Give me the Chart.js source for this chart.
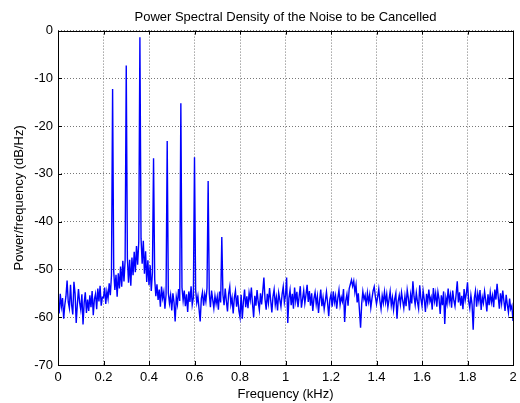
<!DOCTYPE html>
<html>
<head>
<meta charset="utf-8">
<script src="https://cdn.jsdelivr.net/npm/chart.js@4/dist/chart.umd.min.js"></script>
<style>
  html, body { margin: 0; padding: 0; background: #fff; }
  #c { display: block; }
</style>
</head>
<body>
<canvas id="c" width="520" height="403"></canvas>
<script>
// frequency grid: 0 .. 2 kHz, 401 bins
const fStep = 0.005
const binCount = 401

// PSD in dB/Hz, one row per 0.1 kHz
const psd = [
  -56.5,-59.2,-55.1,-57.8,-56.0,-60.3,-57.4,-55.6,-52.3,-56.8,-58.1,-53.2,-57.5,-59.4,-52.6,-55.0,-61.2,-57.3,-54.1,-56.9,
  -58.4,-55.2,-61.5,-57.0,-54.8,-59.1,-56.3,-58.7,-55.4,-57.9,-54.5,-59.6,-56.2,-55.1,-58.3,-54.0,-56.7,-53.4,-57.6,-55.8,
  -55.9,-53.8,-57.2,-54.6,-56.1,-52.9,-55.4,-51.2,-12.2,-50.5,-54.3,-51.1,-55.7,-50.8,-54.0,-49.4,-53.6,-48.2,-52.5,-48.1,
  -7.3,-47.6,-52.8,-48.0,-53.4,-47.5,-51.2,-46.3,-50.6,-45.1,-49.0,-44.2,-1.4,-43.5,-48.8,-44.0,-50.9,-46.2,-52.6,-48.1,
  -53.3,-49.1,-54.5,-50.7,-26.7,-52.0,-55.6,-53.1,-56.4,-54.2,-57.8,-53.6,-56.0,-54.7,-58.2,-55.3,-23.1,-54.9,-57.1,-55.4,
  -58.6,-55.0,-56.9,-60.9,-55.8,-57.3,-54.1,-56.6,-15.2,-53.8,-56.5,-54.4,-57.7,-55.2,-58.9,-54.6,-56.8,-53.5,-57.4,-55.9,
  -26.5,-54.3,-57.0,-55.6,-58.3,-60.9,-56.1,-54.8,-57.6,-55.2,-56.7,-53.9,-31.5,-55.0,-57.9,-54.4,-56.3,-58.1,-55.5,-57.2,
  -55.7,-58.4,-54.6,-56.9,-43.2,-55.3,-57.5,-54.0,-56.6,-58.8,-55.1,-53.6,-57.3,-55.9,-59.2,-56.0,-54.5,-57.8,-55.4,-58.6,
  -60.0,-55.3,-60.3,-56.7,-54.2,-57.9,-55.6,-58.1,-54.9,-56.4,-53.8,-57.2,-60.0,-55.5,-57.6,-54.3,-56.8,-58.5,-55.0,-57.3,
  -54.6,-51.7,-56.2,-58.4,-55.1,-57.0,-53.9,-56.5,-59.0,-55.7,-54.2,-57.4,-55.8,-58.6,-54.9,-56.3,-57.8,-55.2,-53.6,-56.9,
  -55.4,-51.7,-61.2,-56.0,-54.3,-57.5,-55.1,-58.2,-53.8,-56.6,-54.7,-57.9,-55.6,-53.5,-58.0,-56.2,-54.4,-57.1,-55.3,-53.2,
  -56.8,-54.5,-57.6,-55.0,-58.7,-56.1,-54.8,-57.3,-55.6,-59.1,-56.4,-54.2,-57.7,-55.9,-58.3,-56.6,-54.7,-57.0,-59.8,-56.3,
  -55.2,-57.8,-54.6,-56.9,-55.5,-58.2,-56.0,-54.3,-57.4,-55.8,-56.7,-54.1,-61.0,-56.5,-55.2,-57.6,-54.0,-53.1,-52.2,-53.5,
  -52.4,-54.8,-53.2,-56.9,-55.0,-58.5,-62.2,-57.1,-54.6,-56.3,-55.4,-57.7,-54.9,-56.8,-55.3,-58.0,-56.1,-54.5,-53.6,-55.7,
  -57.2,-55.8,-54.1,-56.6,-58.3,-55.5,-57.0,-54.7,-56.9,-55.2,-57.9,-56.3,-54.6,-57.5,-55.9,-58.4,-56.2,-55.0,-60.3,-56.7,
  -55.4,-57.3,-54.8,-56.5,-58.1,-55.6,-57.7,-54.3,-56.0,-58.6,-55.3,-57.1,-52.5,-55.7,-57.4,-54.9,-56.8,-58.2,-53.3,-56.1,
  -57.6,-54.5,-56.3,-58.9,-55.1,-57.0,-54.2,-56.7,-55.8,-58.4,-53.9,-56.6,-55.0,-57.8,-54.7,-56.2,-59.3,-55.4,-57.5,-54.6,
  -61.4,-55.9,-57.2,-54.0,-56.8,-55.3,-58.0,-54.4,-56.5,-57.7,-55.2,-52.5,-56.9,-54.8,-57.6,-55.5,-58.3,-54.1,-56.4,-55.0,
  -52.7,-56.6,-58.1,-55.4,-57.3,-62.6,-56.0,-54.5,-57.8,-55.1,-56.7,-54.3,-58.5,-55.8,-57.0,-54.6,-56.4,-58.8,-55.2,-57.5,
  -54.8,-56.9,-55.5,-57.9,-54.2,-56.3,-53.0,-55.7,-58.2,-55.0,-57.1,-54.4,-56.6,-58.7,-55.3,-57.4,-59.0,-56.1,-58.3,-57.6,
  -60.8
]

const freqs = Array.from({ length: binCount }, (_, i) => +(i * fStep).toFixed(3))

const fontFamily = "'Liberation Sans', Arial, sans-serif"

// black box round the axes with small inward ticks, matlab style
const boxPlugin = {
  id: 'box',
  afterDraw(chart) {
    const ctx = chart.ctx
    const a = chart.chartArea
    const xs = chart.scales.x
    const ys = chart.scales.y
    ctx.save()
    ctx.strokeStyle = "black"
    ctx.lineWidth = 1
    ctx.setLineDash([])
    ctx.strokeRect(Math.round(a.left) + 0.5, Math.round(a.top) + 0.5,
      Math.round(a.right - a.left), Math.round(a.bottom - a.top))
    ctx.beginPath()
    xs.ticks.forEach(t => {
      const x = Math.round(xs.getPixelForValue(t.value)) + 0.5
      ctx.moveTo(x, a.bottom); ctx.lineTo(x, a.bottom - 4)
      ctx.moveTo(x, a.top); ctx.lineTo(x, a.top + 4)
    })
    ys.ticks.forEach(t => {
      const y = Math.round(ys.getPixelForValue(t.value)) + 0.5
      ctx.moveTo(a.left, y); ctx.lineTo(a.left + 4, y)
      ctx.moveTo(a.right, y); ctx.lineTo(a.right - 4, y)
    })
    ctx.stroke()
    ctx.restore()
  }
}

new Chart(document.getElementById("c").getContext("2d"), {
  type: "line",
  data: {
    datasets: [{
      data: freqs.map((f, i) => ({ x: f, y: psd[i] })),
      borderColor: "#0000ff",
      borderWidth: 1.4,
      pointRadius: 0,
      tension: 0,
      fill: false
    }]
  },
  options: {
    responsive: false,
    animation: false,
    devicePixelRatio: 1,
    layout: { padding: { left: 0, right: 7, top: 0, bottom: 0 } },
    plugins: {
      legend: { display: false },
      tooltip: { enabled: false },
      title: {
        display: true,
        fullSize: false,
        text: "Power Spectral Density of the Noise to be Cancelled",
        color: "black",
        font: { family: fontFamily, size: 13, weight: "normal", lineHeight: 1.2 },
        padding: { top: 10, bottom: 5 }
      }
    },
    scales: {
      x: {
        type: "linear",
        min: 0,
        max: 2,
        afterFit(scale) {
          scale.height = 38
          scale.paddingRight = 0
          scale.paddingLeft = 0
        },
        grid: { color: "#777", drawTicks: false },
        border: { display: false, dash: [1, 2] },
        ticks: {
          stepSize: 0.2,
          padding: 5,
          autoSkip: false,
          maxRotation: 0,
          color: "black",
          font: { family: fontFamily, size: 13 },
          callback: (value) => String(+value.toFixed(1))
        },
        title: {
          display: true,
          text: "Frequency (kHz)",
          color: "black",
          font: { family: fontFamily, size: 13 },
          padding: { top: 0, bottom: 1 }
        }
      },
      y: {
        min: -70,
        max: 0,
        afterFit(scale) {
          scale.width = 58
          scale.paddingTop = 0
          scale.paddingBottom = 0
        },
        grid: { color: "#777", drawTicks: false },
        border: { display: false, dash: [1, 2] },
        ticks: {
          stepSize: 10,
          padding: 5,
          color: "black",
          font: { family: fontFamily, size: 13 }
        },
        title: {
          display: true,
          text: "Power/frequency (dB/Hz)",
          color: "black",
          font: { family: fontFamily, size: 13 },
          padding: { top: 12, bottom: 0 }
        }
      }
    }
  },
  plugins: [boxPlugin]
})
</script>
</body>
</html>
